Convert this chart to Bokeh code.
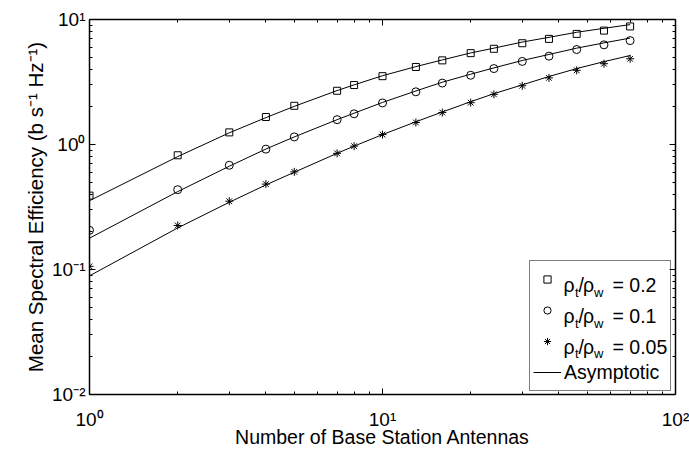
from bokeh.plotting import figure
from bokeh.models import (Range1d, LogAxis, FixedTicker, CustomJSTickFormatter,
                          ColumnDataSource, Legend, LegendItem)
from bokeh.core.properties import value
from bokeh.embed import file_html
from bokeh.resources import INLINE

FONT = "Liberation Sans"

# ---- data ----
antennas = [1, 2, 3, 4, 5, 7, 8, 10, 13, 16, 20, 24, 30, 37, 46, 57, 70]
sim_02 = [0.39, 0.82, 1.25, 1.66, 2.04, 2.69, 2.99, 3.52, 4.17, 4.71, 5.38, 5.83, 6.46, 7.0, 7.67, 8.15, 8.8]
sim_01 = [0.206, 0.435, 0.682, 0.918, 1.15, 1.58, 1.76, 2.15, 2.64, 3.10, 3.58, 4.05, 4.62, 5.09, 5.75, 6.27, 6.78]
sim_005 = [0.106, 0.225, 0.352, 0.482, 0.604, 0.849, 0.97, 1.20, 1.50, 1.80, 2.16, 2.52, 2.95, 3.41, 3.92, 4.43, 4.85]
asy_02 = [0.355, 0.80, 1.24, 1.64, 2.02, 2.70, 3.0, 3.55, 4.2, 4.75, 5.4, 5.9, 6.6, 7.2, 7.9, 8.5, 9.1]
asy_01 = [0.178, 0.42, 0.67, 0.92, 1.15, 1.58, 1.78, 2.17, 2.68, 3.15, 3.65, 4.1, 4.7, 5.25, 5.9, 6.5, 7.1]
asy_005 = [0.089, 0.215, 0.345, 0.475, 0.6, 0.85, 0.97, 1.2, 1.52, 1.82, 2.2, 2.55, 3.0, 3.5, 4.05, 4.6, 5.15]

x_ticks = [1, 10, 100]
y_ticks = [0.01, 0.1, 1, 10]
ratio_values = ["0.2", "0.1", "0.05"]
x_title = "Number of Base Station Antennas"
y_title = "Mean Spectral Efficiency (b s\u207b\u00b9 Hz\u207b\u00b9)"
asym_label = "Asymptotic"

# ---- layout ----
W, H = 689, 450
FRAME_W, FRAME_H = 586, 378
BL, BT = 89, 19
BR = W - BL - FRAME_W
BB = H - BT - FRAME_H
X_LO, X_HI = x_ticks[0], x_ticks[-1]
Y_LO, Y_HI = y_ticks[0], y_ticks[-1]

p = figure(width=W, height=H, x_axis_type="log", y_axis_type="log",
           x_range=Range1d(X_LO, X_HI), y_range=Range1d(Y_LO, Y_HI),
           output_backend="svg", toolbar_location=None,
           min_border_left=BL, min_border_right=BR, min_border_top=BT, min_border_bottom=BB,
           background_fill_color="white", border_fill_color="white")
p.xgrid.visible = False
p.ygrid.visible = False
p.outline_line_color = None

SUP_JS = """
const sup = {"0": "\u2070", "1": "\u00b9", "2": "\u00b2", "3": "\u00b3", "-": "\u207b"};
const e = Math.round(Math.log10(tick));
return "10" + String(e).split("").map(c => sup[c]).join("");
"""


def minors(ticks):
    out = []
    for t in ticks[:-1]:
        out += [m * t for m in range(2, 10)]
    return out


def style_axis(ax, ticks, labelled):
    ax.ticker = FixedTicker(ticks=ticks, minor_ticks=minors(ticks))
    ax.axis_line_color = "black"
    ax.axis_line_width = 1.5
    ax.major_tick_in = 6
    ax.major_tick_out = 0
    ax.minor_tick_in = 3
    ax.minor_tick_out = 0
    ax.major_tick_line_color = "black"
    ax.minor_tick_line_color = "black"
    ax.major_tick_line_width = 1
    ax.minor_tick_line_width = 1
    if labelled:
        ax.formatter = CustomJSTickFormatter(code=SUP_JS)
        ax.major_label_text_font = FONT
        ax.major_label_text_font_size = "19px"
        ax.major_label_text_color = "black"
    else:
        ax.formatter = CustomJSTickFormatter(code="return ''")
        ax.major_label_text_font_size = "0px"
        ax.major_label_standoff = 0


xax = p.below[0]
yax = p.left[0]
style_axis(xax, x_ticks, True)
style_axis(yax, y_ticks, True)
xax.major_label_standoff = 14
xax.axis_label = x_title
xax.axis_label_text_font = FONT
xax.axis_label_text_font_size = "19.5px"
xax.axis_label_text_font_style = "normal"
xax.axis_label_text_color = "black"
xax.axis_label_standoff = -7
yax.major_label_standoff = 4
yax.axis_label = y_title
yax.axis_label_text_font = FONT
yax.axis_label_text_font_size = "20.5px"
yax.axis_label_text_font_style = "normal"
yax.axis_label_text_color = "black"
yax.axis_label_standoff = 2

top_ax = LogAxis()
right_ax = LogAxis()
style_axis(top_ax, x_ticks, False)
style_axis(right_ax, y_ticks, False)
p.add_layout(top_ax, "above")
p.add_layout(right_ax, "right")

src = ColumnDataSource(dict(n=antennas, s02=sim_02, s01=sim_01, s005=sim_005,
                            a02=asy_02, a01=asy_01, a005=asy_005))

r_l1 = p.line("n", "a02", source=src, line_color="black", line_width=1)
p.line("n", "a01", source=src, line_color="black", line_width=1)
p.line("n", "a005", source=src, line_color="black", line_width=1)
r_sq = p.scatter("n", "s02", source=src, marker="square", size=7, fill_color=None,
                 line_color="black", line_width=1)
r_ci = p.scatter("n", "s01", source=src, marker="circle", size=8, fill_color=None,
                 line_color="black", line_width=1)
r_st = p.scatter("n", "s005", source=src, marker="asterisk", size=8,
                 line_color="black", line_width=1)

# ---- legend ----
LEG_X, LEG_Y = 440, 3
PAD, ROW_H, SPACING = 3, 30, 1
GW, STANDOFF, LW = 28, 3, 103
legend = Legend(items=[LegendItem(label=value(" "), renderers=[r_sq]),
                       LegendItem(label=value(" "), renderers=[r_ci]),
                       LegendItem(label=value(" "), renderers=[r_st]),
                       LegendItem(label=value(asym_label), renderers=[r_l1])],
                location=(LEG_X, LEG_Y), orientation="vertical", padding=PAD, spacing=SPACING,
                glyph_width=GW, glyph_height=18, label_height=ROW_H, label_width=LW,
                label_standoff=STANDOFF, margin=0,
                border_line_color="black", border_line_width=1,
                background_fill_color="white", background_fill_alpha=0,
                label_text_font=FONT, label_text_font_size="19.5px", label_text_color="black")
p.add_layout(legend)


# legend label texts with subscripts (rho_t / rho_w = value); frame pixel offsets -> data coords
def px_x(px):
    return X_LO * (X_HI / X_LO) ** (px / FRAME_W)


def px_y(py):
    return Y_LO * (Y_HI / Y_LO) ** (py / FRAME_H)


n_rows = 4
leg_h = 2 * PAD + n_rows * ROW_H + (n_rows - 1) * SPACING
leg_top = LEG_Y + leg_h
text_x = LEG_X + PAD + GW + STANDOFF
lx, ly, lt, ls = [], [], [], []
for i, val in enumerate(ratio_values):
    center = leg_top - PAD - ROW_H / 2 - i * (ROW_H + SPACING)
    base = center - 4
    frags = [("\u03c1", 0, 0, "19.5px"), ("t", 11.5, -7, "13px"), ("/", 15, 0, "19.5px"),
             ("\u03c1", 19.5, 0, "19.5px"), ("w", 30.5, -7, "13px"), ("= " + val, 49, 0, "19.5px")]
    for txt, dx, dy, fs in frags:
        lx.append(px_x(text_x + dx))
        ly.append(px_y(base + dy))
        lt.append(txt)
        ls.append(fs)
leg_src = ColumnDataSource(dict(x=lx, y=ly, t=lt, s=ls))
p.text(x="x", y="y", text="t", text_font_size="s", source=leg_src,
       text_font=value(FONT), text_color="black",
       text_align="left", text_baseline="alphabetic")

open("out.html", "w").write(file_html(p, INLINE))
